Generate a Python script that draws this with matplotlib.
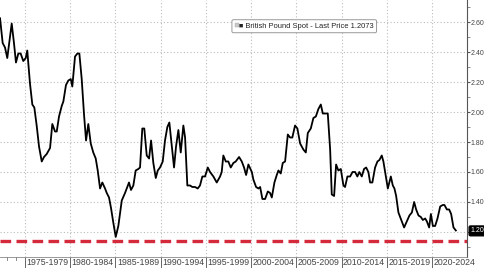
import math
import matplotlib
matplotlib.use("Agg")
import matplotlib.pyplot as plt
from matplotlib.ticker import FixedLocator, NullFormatter

plt.rcParams['font.family'] = ['Liberation Sans', 'DejaVu Sans']

# quarterly-ish readings of GBPUSD (fractional year, price)
years = [
    1972.24, 1972.53, 1972.79, 1973.04, 1973.53, 1973.78, 1974.00, 1974.26, 1974.52, 1974.81,
    1975.08, 1975.25, 1975.55, 1975.81, 1976.03, 1976.29, 1976.55, 1976.85, 1977.10, 1977.40,
    1977.77, 1978.02, 1978.32, 1978.51, 1978.76, 1979.06, 1979.24, 1979.53, 1979.79, 1980.06,
    1980.23, 1980.53, 1980.79, 1981.01, 1981.27, 1981.53, 1981.75, 1982.00, 1982.27, 1982.55,
    1982.82, 1983.04, 1983.30, 1983.55, 1983.85, 1984.04, 1984.29, 1984.51, 1984.77, 1985.03,
    1985.32, 1985.70, 1986.06, 1986.25, 1986.50, 1986.72, 1986.98, 1987.24, 1987.53, 1987.72,
    1987.97, 1988.19, 1988.46, 1988.72, 1988.94, 1989.19, 1989.46, 1989.68, 1989.93, 1990.23,
    1990.48, 1990.74, 1990.96, 1991.22, 1991.48, 1991.70, 1991.96, 1992.22, 1992.51, 1992.70,
    1992.95, 1993.25, 1993.50, 1993.80, 1994.10, 1994.35, 1994.61, 1994.91, 1995.21, 1995.46,
    1995.83, 1996.20, 1996.57, 1996.75, 1996.93, 1997.20, 1997.48, 1997.75, 1998.04, 1998.30,
    1998.67, 1998.97, 1999.22, 1999.45, 1999.70, 2000.08, 2000.25, 2000.55, 2000.81, 2001.00,
    2001.25, 2001.55, 2001.85, 2002.10, 2002.29, 2002.58, 2002.84, 2003.02, 2003.28, 2003.50,
    2003.76, 2004.06, 2004.31, 2004.56, 2004.86, 2005.12, 2005.42, 2005.78, 2006.05, 2006.27,
    2006.60, 2006.89, 2007.16, 2007.44, 2007.71, 2007.93, 2008.18, 2008.48, 2008.74, 2008.92,
    2009.18, 2009.40, 2009.65, 2009.92, 2010.21, 2010.39, 2010.65, 2010.95, 2011.22, 2011.50,
    2011.75, 2011.97, 2012.24, 2012.49, 2012.72, 2012.97, 2013.16, 2013.41, 2013.71, 2013.97,
    2014.19, 2014.45, 2014.63, 2014.90, 2015.12, 2015.45, 2015.67, 2015.85, 2016.04, 2016.29,
    2016.67, 2016.92, 2017.22, 2017.51, 2017.78, 2018.03, 2018.25, 2018.51, 2018.77, 2018.99,
    2019.25, 2019.44, 2019.69, 2019.88, 2020.10, 2020.35, 2020.61, 2020.91, 2021.20, 2021.38,
    2021.65, 2021.90, 2022.12, 2022.38, 2022.64,
]
prices = [
    2.625, 2.46, 2.43, 2.36, 2.59, 2.46, 2.33, 2.39, 2.39, 2.34,
    2.36, 2.41, 2.19, 2.05, 2.03, 1.91, 1.77, 1.67, 1.70, 1.72,
    1.76, 1.92, 1.87, 1.87, 1.97, 2.04, 2.07, 2.18, 2.21, 2.22,
    2.17, 2.37, 2.39, 2.39, 2.22, 1.98, 1.81, 1.92, 1.79, 1.73,
    1.69, 1.61, 1.49, 1.53, 1.49, 1.46, 1.43, 1.36, 1.26, 1.167,
    1.24, 1.41, 1.46, 1.49, 1.53, 1.48, 1.51, 1.61, 1.62, 1.63,
    1.89, 1.89, 1.71, 1.69, 1.81, 1.66, 1.56, 1.61, 1.63, 1.67,
    1.81, 1.90, 1.93, 1.78, 1.63, 1.77, 1.88, 1.73, 1.91, 1.83,
    1.51, 1.51, 1.50, 1.50, 1.49, 1.51, 1.57, 1.57, 1.63, 1.60,
    1.57, 1.53, 1.57, 1.60, 1.71, 1.67, 1.67, 1.63, 1.66, 1.67,
    1.70, 1.67, 1.63, 1.58, 1.65, 1.60, 1.55, 1.50, 1.49, 1.50,
    1.42, 1.42, 1.47, 1.46, 1.43, 1.53, 1.58, 1.61, 1.59, 1.66,
    1.67, 1.85, 1.83, 1.83, 1.91, 1.89, 1.79, 1.75, 1.73, 1.86,
    1.89, 1.96, 1.97, 2.02, 2.05, 1.99, 1.99, 1.99, 1.75, 1.45,
    1.44, 1.65, 1.61, 1.62, 1.51, 1.50, 1.57, 1.57, 1.60, 1.60,
    1.57, 1.60, 1.57, 1.62, 1.63, 1.60, 1.53, 1.53, 1.63, 1.67,
    1.68, 1.71, 1.67, 1.57, 1.49, 1.57, 1.51, 1.49, 1.44, 1.33,
    1.27, 1.23, 1.27, 1.31, 1.33, 1.40, 1.35, 1.31, 1.30, 1.28,
    1.29, 1.27, 1.23, 1.32, 1.24, 1.24, 1.29, 1.37, 1.38, 1.38,
    1.35, 1.35, 1.32, 1.23, 1.21,
]

last_price = 1.2073
support_level = 1.142
period_starts = [1975, 1980, 1985, 1990, 1995, 2000, 2005, 2010, 2015, 2020]
period_labels = [f"{y}-{y + 4}" for y in period_starts]
y_ticks = [1.20, 1.40, 1.60, 1.80, 2.00, 2.20, 2.40, 2.60]

fig = plt.figure(figsize=(4.85, 2.68), dpi=100)
ax = fig.add_axes([0.0, 0.041, 0.963, 0.959])

ax.plot(years, prices, color='black', lw=1.3, zorder=3)
ax.axhline(support_level, color='#d42a3c', lw=2.4, ls=(0, (3.2, 1.6)), zorder=2)

ax.set_xlim(1972.235, 2023.88)
ax.set_ylim(1.033, 2.747)

# right axis ticks; the 1.20 label is covered by the last-price tag
ax.set_yticks(y_ticks)
ax.yaxis.set_minor_locator(FixedLocator([v + 0.1 for v in [1.0] + y_ticks]))
ax.set_yticklabels(["" if v == 1.20 else f"{v:.2f}" for v in y_ticks])
ax.yaxis.tick_right()
ax.tick_params(axis='y', which='major', length=2.5, width=0.8, color='#555555',
               labelsize=5.0, labelcolor='#444444', pad=0.3)
ax.tick_params(axis='y', which='minor', length=1.8, width=0.6, color='#777777')

ax.set_xticks(period_starts)
ax.set_xticklabels([])
ax.xaxis.set_minor_formatter(NullFormatter())
ax.tick_params(axis='x', which='major', length=11, width=0.7, color='#666666')
for x, lab in zip([y + 2.5 for y in period_starts], period_labels):
    ax.text(x, -0.005, lab, transform=ax.get_xaxis_transform(), ha='center', va='top',
            fontsize=6.3, color='#444444')
for x in [1973, 1974]:
    ax.plot([x, x], [0, -0.012], transform=ax.get_xaxis_transform(), color='#777777',
            lw=0.6, clip_on=False)

ax.grid(True, which='major', color='#bbbbbb', ls=(0, (1, 2)), lw=0.8)

for s in ['top', 'left']:
    ax.spines[s].set_visible(False)
ax.spines['right'].set_color('#555555')
ax.spines['right'].set_linewidth(0.8)
ax.spines['bottom'].set_color('#888888')
ax.spines['bottom'].set_linewidth(0.6)

# legend box with a small grey swatch before the black one
legend_text = "\u2002\u25a0 British Pound Spot - Last Price 1.2073"
ax.text(0.503, 0.898, legend_text,
        transform=ax.transAxes, fontsize=5.4, color='#222222', va='center', ha='left',
        bbox=dict(boxstyle='round,pad=0.4,rounding_size=0.2', fc='white', ec='#999999', lw=0.7))
ax.plot([0.507], [0.902], marker='s', ms=2.2, color='#c8c8c8', mec='#aaaaaa', mew=0.3,
        transform=ax.transAxes, zorder=5, clip_on=False)

# last price tag (price truncated to two decimals, as on the terminal)
tag_text = f"{math.floor(last_price * 100) / 100:.2f}"
ax.annotate(tag_text, xy=(1.0, last_price), xycoords=('axes fraction', 'data'),
            xytext=(2.5, 0), textcoords='offset points', ha='left', va='center',
            fontsize=5.0, color='white',
            bbox=dict(boxstyle='round,pad=0.2', fc='black', ec='black'), annotation_clip=False)

fig.savefig('out.png', dpi=100, facecolor='white')
